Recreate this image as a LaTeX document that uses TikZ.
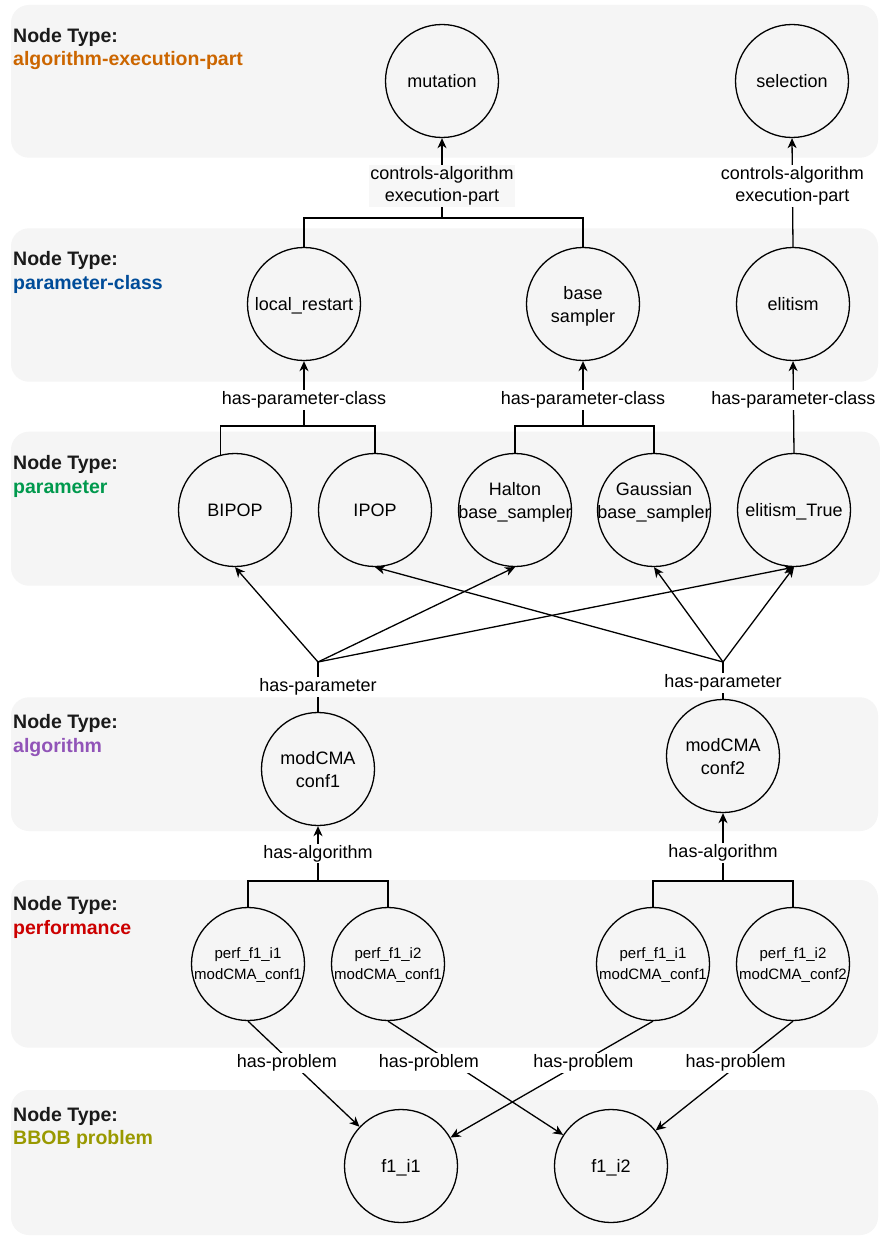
\documentclass[tikz,border=0pt]{standalone}
\usepackage{fontspec}
\setmainfont{Liberation Sans}
\usetikzlibrary{arrows.meta}

\definecolor{bandgray}{HTML}{F5F5F5}
\definecolor{hdrdark}{HTML}{1A1A1A}
\definecolor{colAEP}{HTML}{CC6600}
\definecolor{colPC}{HTML}{004C99}
\definecolor{colPar}{HTML}{00994D}
\definecolor{colAlg}{HTML}{9154B8}
\definecolor{colPerf}{HTML}{CC0000}
\definecolor{colBBOB}{HTML}{999900}

% centred multi-line text that does not widen the circle around it;
% the optional argument moves the text up (positive) or down (negative)
\newcommand{\circtext}[2][-2pt]{\raisebox{#1}[\height][\depth]{\makebox[0pt]{\begin{tabular}{@{}c@{}}#2\end{tabular}}}}

\tikzset{
  band/.style={fill=bandgray, draw=none, rounded corners=18pt},
  hdr/.style={anchor=base west, inner sep=0pt, font=\bfseries\fontsize{19.5}{23}\selectfont},
  nd/.style={circle, draw, line width=1.3pt, minimum size=113pt, inner sep=0pt,
             font=\fontsize{18}{23}\selectfont},
  pnd/.style={nd, font=\fontsize{15}{20.7}\selectfont},
  lbl/.style={fill=white, inner sep=1.5pt, align=center, font=\fontsize{18}{22}\selectfont},
  conn/.style={line width=1.3pt},
  arr/.style={conn, -{Stealth[length=10pt, width=9pt, inset=3pt]}},
}

\begin{document}
\begin{tikzpicture}[x=1pt, y=-1pt]
  \fill[white] (0,0) rectangle (880,1236);
  \useasboundingbox (0,0) rectangle (880,1236);

  % layer bands
  \fill[band] (11,5)     rectangle (878,157.7);
  \fill[band] (11,228.3) rectangle (878,381.7);
  \fill[band] (11,431.7) rectangle (880,585.7);
  \fill[band] (11,697.3) rectangle (878,831);
  \fill[band] (11,880)   rectangle (878,1047.7);
  \fill[band] (11,1090)  rectangle (878,1235);

  % layer headers
  \node[hdr, text=hdrdark] (t1a) at (13,42.5)  {Node Type:};
  \node[hdr, text=colAEP]  (t1b) at (13,66)    {algorithm-execution-part};
  \node[hdr, text=hdrdark] (t2a) at (13,265.5) {Node Type:};
  \node[hdr, text=colPC]   (t2b) at (13,289)   {parameter-class};
  \node[hdr, text=hdrdark] (t3a) at (13,469.5) {Node Type:};
  \node[hdr, text=colPar]  (t3b) at (13,493)   {parameter};
  \node[hdr, text=hdrdark] (t4a) at (13,728.5) {Node Type:};
  \node[hdr, text=colAlg]  (t4b) at (13,752)   {algorithm};
  \node[hdr, text=hdrdark] (t5a) at (13,910.5) {Node Type:};
  \node[hdr, text=colPerf] (t5b) at (13,934)   {performance};
  \node[hdr, text=hdrdark] (t6a) at (13,1121)  {Node Type:};
  \node[hdr, text=colBBOB] (t6b) at (13,1144)  {BBOB problem};

  % algorithm execution parts
  \node[nd] (mut) at (442,81) {\circtext{mutation}};
  \node[nd] (sel) at (792,81) {\circtext{selection}};

  % parameter classes
  \node[nd] (lr) at (304,304) {\circtext{local\_restart}};
  \node[nd] (bs) at (583,304) {\circtext{base\\sampler}};
  \node[nd] (el) at (793,304) {\circtext{elitism}};

  % parameters
  \node[nd] (bipop)  at (235,510) {\circtext{BIPOP}};
  \node[nd] (ipop)   at (375,510) {\circtext{IPOP}};
  \node[nd] (halton) at (515,510) {\circtext[8pt]{Halton\\base\_sampler}};
  \node[nd] (gauss)  at (654,510) {\circtext[8pt]{Gaussian\\base\_sampler}};
  \node[nd] (elT)    at (794,510) {\circtext{elitism\_True}};

  % algorithms
  \node[nd] (conf1) at (318,769) {\circtext{modCMA\\conf1}};
  \node[nd] (conf2) at (723,756) {\circtext{modCMA\\conf2}};

  % performances
  \node[pnd] (p1) at (248,964) {\circtext[-1pt]{perf\_f1\_i1\\modCMA\_conf1}};
  \node[pnd] (p2) at (388,964) {\circtext[-1pt]{perf\_f1\_i2\\modCMA\_conf1}};
  \node[pnd] (p3) at (653,964) {\circtext[-1pt]{perf\_f1\_i1\\modCMA\_conf1}};
  \node[pnd] (p4) at (793,964) {\circtext[-1pt]{perf\_f1\_i2\\modCMA\_conf2}};

  % problems
  \node[nd] (f1) at (401,1166) {\circtext{f1\_i1}};
  \node[nd] (f2) at (611,1166) {\circtext{f1\_i2}};

  % junction points
  \coordinate (jMut) at (442,218);
  \coordinate (jLR)  at (304,426);
  \coordinate (jBS)  at (583,426);
  \coordinate (hp1)  at (318,662);
  \coordinate (hp2)  at (723,662);
  \coordinate (ja1)  at (318,881);
  \coordinate (ja2)  at (723,881);

  % controls-algorithm execution-part
  \draw[conn] (lr.north) |- (jMut) -| (bs.north);
  \draw[arr] (jMut) -- node[lbl, fill=black!3, pos=0.4] {controls-algorithm\\execution-part} (mut.south);
  \draw[arr] (el.north) -- node[lbl, pos=0.56] {controls-algorithm\\execution-part} (sel.south);

  % has-parameter-class
  \draw[conn] (bipop.105) |- (jLR) -| (ipop.north);
  \draw[arr] (jLR) -- node[lbl, pos=0.4] {has-parameter-class} (lr.south);
  \draw[conn] (halton.north) |- (jBS) -| (gauss.north);
  \draw[arr] (jBS) -- node[lbl, pos=0.4] {has-parameter-class} (bs.south);
  \draw[arr] (elT.north) -- node[lbl, pos=0.575] {has-parameter-class} (el.south);

  % has-parameter
  \draw[conn] (conf1.north) -- node[lbl, pos=0.5] {has-parameter} (hp1);
  \draw[arr] (hp1) -- (bipop.south);
  \draw[arr] (hp1) -- (halton.south);
  \draw[arr] (hp1) -- (elT.south);
  \draw[conn] (conf2.north) -- node[lbl, pos=0.44] {has-parameter} (hp2);
  \draw[arr] (hp2) -- (ipop.south);
  \draw[arr] (hp2) -- (gauss.south);
  \draw[arr] (hp2) -- (elT.south);

  % has-algorithm
  \draw[conn] (p1.north) |- (ja1) -| (p2.north);
  \draw[arr] (ja1) -- node[lbl, pos=0.5] {has-algorithm} (conf1.south);
  \draw[conn] (p3.north) |- (ja2) -| (p4.north);
  \draw[arr] (ja2) -- node[lbl, pos=0.41] {has-algorithm} (conf2.south);

  % has-problem
  \draw[arr] (p1.south) -- node[lbl, pos=0.394, xshift=-5pt]  {has-problem} (f1);
  \draw[arr] (p2.south) -- node[lbl, pos=0.365, xshift=-23pt] {has-problem} (f2);
  \draw[arr] (p3.south) -- node[lbl, pos=0.359, xshift=3pt]   {has-problem} (f1);
  \draw[arr] (p4.south) -- node[lbl, pos=0.382, xshift=-5pt]  {has-problem} (f2);
\end{tikzpicture}
\end{document}
